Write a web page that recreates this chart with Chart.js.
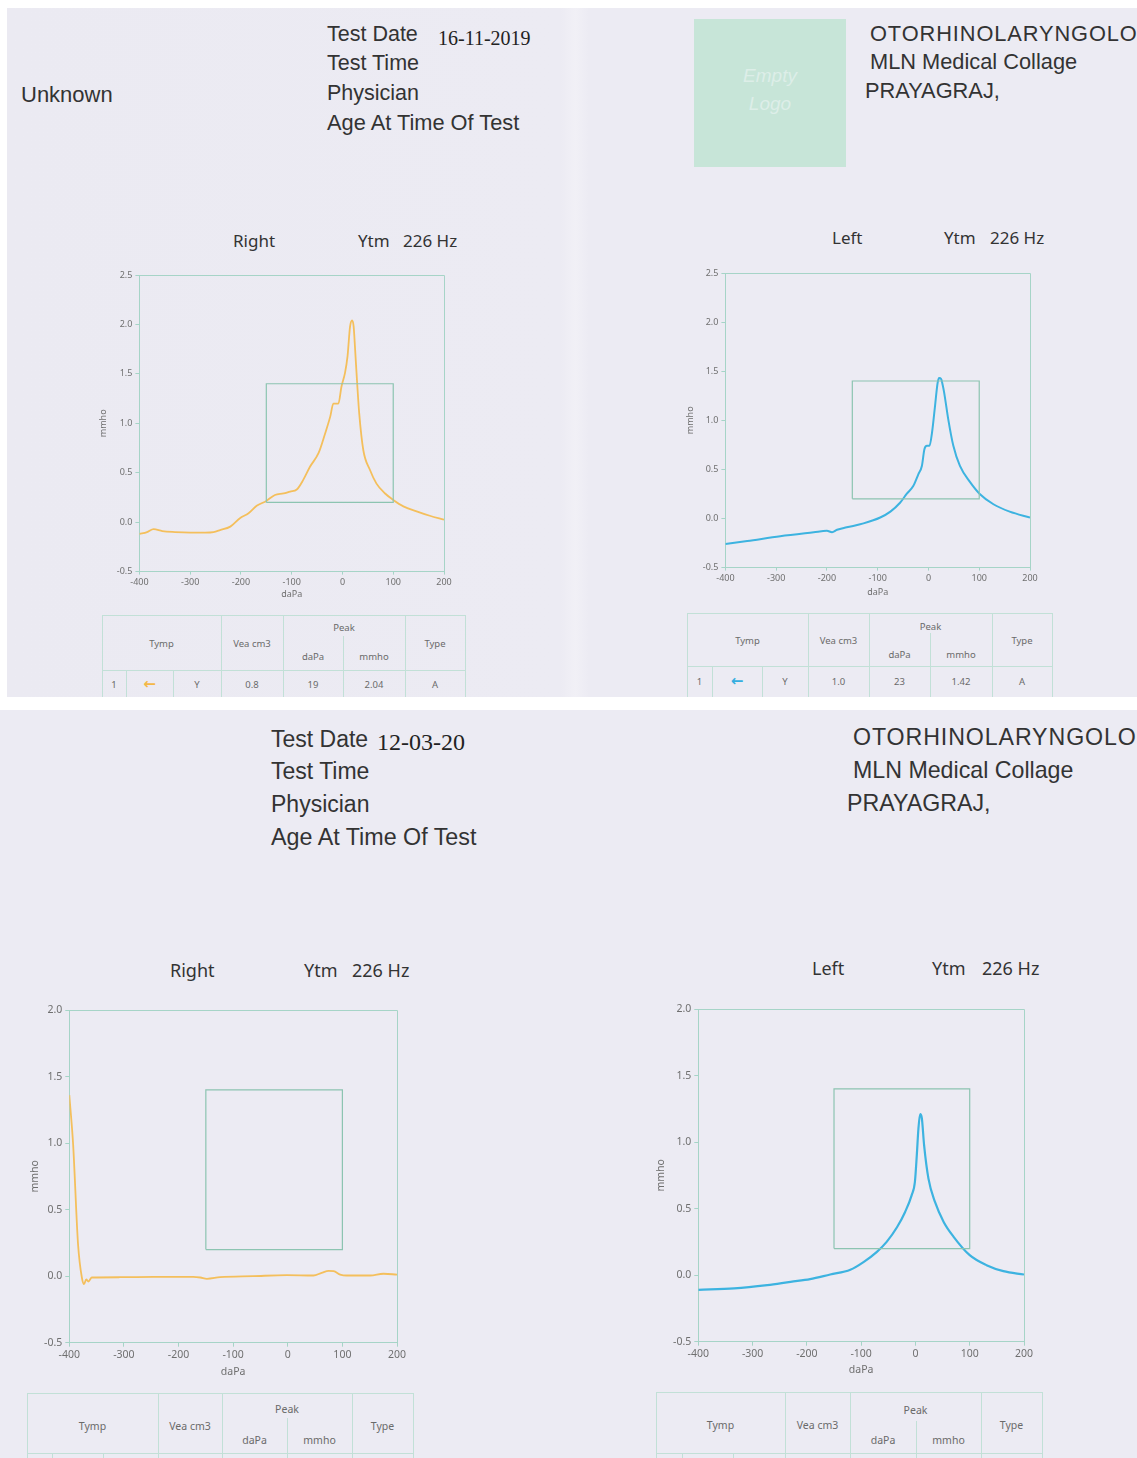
<!DOCTYPE html>
<html><head><meta charset="utf-8">
<script src="https://cdn.jsdelivr.net/npm/chart.js@4.4.1/dist/chart.umd.min.js"></script>
<style>
html,body{margin:0;padding:0;background:#ffffff;width:1137px;height:1458px;overflow:hidden;position:relative;}
.page{position:absolute;background:#ecebf3;}
.t{position:absolute;white-space:pre;}
.cv{position:absolute;}
.ln{position:absolute;background:#c2e0d7;}
</style></head><body>
<div class="page" style="left:7px;top:8px;width:1130px;height:689px;background:linear-gradient(90deg,#ebeaf2 0%,#ecebf3 49%,#f1f0f6 50.3%,#ecebf3 51.5%,#ecebf3 100%);"></div>
<div class="page" style="left:0px;top:710px;width:1137px;height:748px;"></div>
<script>
// ---------- DATA ----------
const xTicks = [-400, -300, -200, -100, 0, 100, 200];
const yTicksTop = [-0.5, 0, 0.5, 1, 1.5, 2, 2.5];
const yTicksBottom = [-0.5, 0, 0.5, 1, 1.5, 2];
const normBoxX = [-150, -150, 100, 100, -150];
const normBoxY = [0.2, 1.4, 1.4, 0.2, 0.2];

// Test 1 (16-11-2019) Right ear
const right1_daPa = [-400,-385,-372,-355,-330,-300,-270,-254,-241,-221,-202,-185,-169,-150,-133,-116,-103,-90,-77,-64,-47,-34,-24,-18,-8,-2,5,10,15,19,22,25,29,33,41,54,67,84,100,120,146,172,200];
const right1_mmho = [-0.12,-0.10,-0.07,-0.09,-0.10,-0.105,-0.105,-0.10,-0.08,-0.045,0.04,0.09,0.165,0.215,0.275,0.29,0.31,0.33,0.43,0.56,0.70,0.90,1.07,1.20,1.20,1.37,1.51,1.68,1.98,2.04,1.98,1.74,1.40,1.10,0.73,0.53,0.39,0.29,0.225,0.16,0.11,0.065,0.025];
// Test 1 Left ear
const left1_daPa = [-400,-357,-292,-226,-200,-190,-180,-161,-128,-95,-75,-56,-43,-30,-20,-13,-8,-3,2,7,13,18,21,25,28,31,39,49,62,82,101,128,160,200];
const left1_mmho = [-0.26,-0.23,-0.18,-0.14,-0.125,-0.14,-0.115,-0.09,-0.05,0.01,0.07,0.16,0.25,0.33,0.45,0.535,0.705,0.74,0.74,0.875,1.15,1.38,1.43,1.42,1.36,1.28,1.01,0.74,0.535,0.37,0.25,0.145,0.07,0.01];
// Test 2 (12-03-20) Right ear
const right2_daPa = [-400,-393,-384,-377,-373,-369,-365,-359,-307,-246,-173,-160,-148,-124,-63,-2,47,62,75,84,96,108,151,175,200];
const right2_mmho = [1.36,0.99,0.24,-0.01,-0.06,-0.025,-0.04,-0.01,-0.008,-0.005,-0.005,-0.01,-0.02,-0.008,0,0.008,0.005,0.025,0.04,0.038,0.012,0.005,0.005,0.018,0.012];
// Test 2 Left ear
const left2_daPa = [-400,-334,-273,-230,-194,-157,-120,-95,-71,-53,-34,-19,-7,-1,2.5,5.5,8.7,11.8,16,24,36,52,70,100,131,162,200];
const left2_mmho = [-0.11,-0.10,-0.075,-0.05,-0.03,0.005,0.04,0.10,0.175,0.25,0.36,0.475,0.60,0.70,0.90,1.10,1.21,1.18,0.975,0.725,0.55,0.40,0.29,0.15,0.075,0.03,0.005];

const tableHeaders = ['Tymp', 'Vea cm3', 'Peak', 'daPa', 'mmho', 'Type'];
const right1_row = ['1', '\u2190', 'Y', '0.8', '19', '2.04', 'A'];
const left1_row  = ['1', '\u2190', 'Y', '1.0', '23', '1.42', 'A'];

// ---------- HELPERS ----------
const SANS = '"Liberation Sans", Arial, sans-serif';
const SERIF = '"Liberation Serif", "Times New Roman", serif';
const HUM = '"Noto Sans", "Open Sans", sans-serif';
function addText(str, x, yc, size, o) {
  o = o || {};
  const d = document.createElement('div');
  d.className = 't';
  d.textContent = str;
  d.style.left = x + 'px';
  d.style.top = (yc - size * 0.6) + 'px';
  d.style.fontSize = size + 'px';
  d.style.lineHeight = (size * 1.2) + 'px';
  d.style.fontFamily = o.family || SANS;
  d.style.color = o.color || '#333';
  if (o.center) d.style.transform = 'translateX(-50%)';
  if (o.italic) d.style.fontStyle = 'italic';
  if (o.weight) d.style.fontWeight = o.weight;
  if (o.ls) d.style.letterSpacing = o.ls + 'px';
  document.body.appendChild(d);
  return d;
}
function addLine(x, y, w, h) {
  const d = document.createElement('div');
  d.className = 'ln';
  d.style.left = x + 'px'; d.style.top = y + 'px';
  d.style.width = w + 'px'; d.style.height = h + 'px';
  document.body.appendChild(d);
}
function drawTable(g, row, arrowColor) {
  const c = g.cols;
  addLine(c[0], g.top, c[7] - c[0], 1);
  addLine(c[0], g.hb, c[7] - c[0], 1);
  [0, 3, 4, 6, 7].forEach(i => addLine(c[i], g.top, 1, g.end - g.top));
  addLine(c[5], g.mid, 1, g.end - g.mid);
  addLine(c[1], g.hb, 1, g.end - g.hb);
  addLine(c[2], g.hb, 1, g.end - g.hb);
  const f = g.font, col = '#6a6a6a';
  const op = {family: HUM, color: col, center: true};
  addText(tableHeaders[0], (c[0] + c[3]) / 2, g.th, f, op);
  addText(tableHeaders[1], (c[3] + c[4]) / 2, g.th, f, op);
  addText(tableHeaders[2], (c[4] + c[6]) / 2, g.yPeak, f, op);
  addText(tableHeaders[3], (c[4] + c[5]) / 2, g.ySub, f, op);
  addText(tableHeaders[4], (c[5] + c[6]) / 2, g.ySub, f, op);
  addText(tableHeaders[5], (c[6] + c[7]) / 2, g.th, f, op);
  if (row) {
    for (let i = 0; i < 7; i++) {
      const cx = (c[i] + c[i + 1]) / 2;
      if (i === 1) addText(row[i], cx, g.yRow - 1, 15, {family: '"DejaVu Sans", sans-serif', color: arrowColor, center: true, weight: 'bold'});
      else addText(row[i], cx, g.yRow, f, op);
    }
  }
}

const framePlugin = {
  id: 'frame',
  beforeDatasetsDraw(chart, args, opts) {
    const a = chart.chartArea, ctx = chart.ctx;
    ctx.save();
    ctx.strokeStyle = opts.color; ctx.lineWidth = 1;
    ctx.beginPath();
    ctx.moveTo(a.left, a.top + 0.5); ctx.lineTo(a.right + 0.5, a.top + 0.5);
    ctx.lineTo(a.right + 0.5, a.bottom);
    ctx.stroke();
    ctx.restore();
  }
};

function makeChart(cfg) {
  const f = cfg.font;
  const boxLeft = cfg.titleX - 0.6 * f;
  const yW = cfg.L - boxLeft;
  const boxBottom = cfg.titleY + 0.6 * f;
  const xH = boxBottom - cfg.B;
  const padTop = 12, padRight = 16;
  const cv = document.createElement('canvas');
  cv.className = 'cv';
  const W = Math.round(cfg.R - boxLeft + padRight);
  const H = Math.round(boxBottom - (cfg.T - padTop));
  cv.width = W; cv.height = H;
  cv.style.width = W + 'px'; cv.style.height = H + 'px';
  cv.style.left = Math.round(boxLeft) + 'px';
  cv.style.top = (cfg.T - padTop) + 'px';
  document.body.appendChild(cv);
  const axisColor = '#a6d4c7';
  const tickFont = {family: HUM, size: f};
  const pts = cfg.x.map((v, i) => ({x: v, y: cfg.y[i]}));
  const box = normBoxX.map((v, i) => ({x: v, y: normBoxY[i]}));
  return new Chart(cv, {
    type: 'line',
    data: {datasets: [
      {data: box, borderColor: '#8cc4b1', borderWidth: 1.2, pointRadius: 0, tension: 0, fill: false},
      {data: pts, borderColor: cfg.color, borderWidth: cfg.lw, pointRadius: 0, cubicInterpolationMode: 'monotone', fill: false}
    ]},
    options: {
      responsive: false, animation: false, devicePixelRatio: 1,
      layout: {padding: {top: padTop, right: padRight, left: 0, bottom: 0}},
      plugins: {legend: {display: false}, tooltip: {enabled: false}, frame: {color: axisColor}},
      scales: {
        x: {
          type: 'linear', min: -400, max: 200,
          afterBuildTicks: s => { s.ticks = xTicks.map(v => ({value: v})); },
          afterFit: s => { s.height = xH; },
          grid: {drawOnChartArea: false, drawTicks: true, tickLength: cfg.tl, color: axisColor},
          border: {color: axisColor, width: 1},
          ticks: {font: tickFont, color: '#6f6f6f', padding: cfg.tp, maxRotation: 0, autoSkip: false, callback: v => String(v)},
          title: {display: true, text: 'daPa', font: tickFont, color: '#6f6f6f', padding: 0}
        },
        y: {
          type: 'linear', min: cfg.yTicks[0], max: cfg.yTicks[cfg.yTicks.length - 1],
          afterBuildTicks: s => { s.ticks = cfg.yTicks.map(v => ({value: v})); },
          afterFit: s => { s.width = yW; },
          grid: {drawOnChartArea: false, drawTicks: true, tickLength: 4, color: axisColor},
          border: {color: axisColor, width: 1},
          ticks: {font: tickFont, color: '#6f6f6f', padding: 3, autoSkip: false, callback: v => Number(v).toFixed(1)},
          title: {display: true, text: 'mmho', font: tickFont, color: '#6f6f6f', padding: 0}
        }
      }
    },
    plugins: [framePlugin]
  });
}

// ---------- HEADERS (page 1) ----------
addText('Unknown', 21, 95, 22);
addText('Test Date', 327, 35, 21.5);
addText('16-11-2019', 438, 38, 20, {family: SERIF, color: '#222'});
addText('Test Time', 327, 64, 21.5);
addText('Physician', 327, 94, 21.5);
addText('Age At Time Of Test', 327, 123, 21.8);
(function () {
  const d = document.createElement('div');
  d.style.cssText = 'position:absolute;left:694px;top:19px;width:152px;height:148px;background:#c7e5d8;';
  document.body.appendChild(d);
})();
addText('Empty', 770, 76, 19, {center: true, italic: true, color: '#ddeee8'});
addText('Logo', 770, 104, 19, {center: true, italic: true, color: '#ddeee8'});
addText('OTORHINOLARYNGOLOGY', 870, 34, 21.8, {ls: 0.9});
addText('MLN Medical Collage', 870, 62, 21.8);
addText('PRAYAGRAJ,', 865, 91, 21.8);

// chart titles page 1
addText('Right', 233, 241, 17, {family: HUM});
addText('Ytm', 358, 241, 17, {family: HUM});
addText('226 Hz', 403, 241, 17, {family: HUM});
addText('Left', 832, 238, 17, {family: HUM});
addText('Ytm', 944, 238, 17, {family: HUM});
addText('226 Hz', 990, 238, 17, {family: HUM});

// ---------- HEADERS (page 2) ----------
addText('Test Date', 271, 740, 23);
addText('12-03-20', 377, 742, 24, {family: SERIF, color: '#222'});
addText('Test Time', 271, 772, 23);
addText('Physician', 271, 805, 23);
addText('Age At Time Of Test', 271, 838, 23.3);
addText('OTORHINOLARYNGOLOGY', 853, 738, 23.2, {ls: 0.9});
addText('MLN Medical Collage', 853, 771, 23.2);
addText('PRAYAGRAJ,', 847, 804, 23.2);

addText('Right', 170, 971, 18, {family: HUM});
addText('Ytm', 304, 971, 18, {family: HUM});
addText('226 Hz', 352, 971, 18, {family: HUM});
addText('Left', 812, 969, 18, {family: HUM});
addText('Ytm', 932, 969, 18, {family: HUM});
addText('226 Hz', 982, 969, 18, {family: HUM});

// ---------- CHARTS ----------
makeChart({L: 139, R: 444, T: 275, B: 572, titleX: 103, titleY: 595, font: 9, tl: 3, tp: 2,
  yTicks: yTicksTop, x: right1_daPa, y: right1_mmho, color: '#f4bf5c', lw: 1.8});
makeChart({L: 725, R: 1030, T: 273, B: 568, titleX: 690, titleY: 593, font: 9, tl: 3, tp: 2,
  yTicks: yTicksTop, x: left1_daPa, y: left1_mmho, color: '#3db3e0', lw: 2});
makeChart({L: 69, R: 397, T: 1010, B: 1343, titleX: 35, titleY: 1372, font: 10.5, tl: 4, tp: 2,
  yTicks: yTicksBottom, x: right2_daPa, y: right2_mmho, color: '#f4bf5c', lw: 1.8});
makeChart({L: 698, R: 1024, T: 1009, B: 1342, titleX: 661, titleY: 1370, font: 10.5, tl: 4, tp: 2,
  yTicks: yTicksBottom, x: left2_daPa, y: left2_mmho, color: '#3db3e0', lw: 2.2});

// ---------- TABLES ----------
drawTable({cols: [102,126,173,221,283,343,405,465], top: 615, mid: 636, hb: 670, end: 697,
  th: 644, yPeak: 628, ySub: 657, yRow: 685, font: 9.5}, right1_row, '#f4b847');
drawTable({cols: [687,712,762,808,869,930,992,1052], top: 613, mid: 633, hb: 666, end: 697,
  th: 641, yPeak: 627, ySub: 655, yRow: 682, font: 9.5}, left1_row, '#35aee0');
drawTable({cols: [27,52,103,158,222,287,352,413], top: 1393, mid: 1418, hb: 1453, end: 1458,
  th: 1426, yPeak: 1409, ySub: 1440, font: 10.5}, null);
drawTable({cols: [656,682,733,785,850,916,981,1042], top: 1392, mid: 1421, hb: 1453, end: 1458,
  th: 1425, yPeak: 1410, ySub: 1440, font: 10.5}, null);
</script>
</body></html>
